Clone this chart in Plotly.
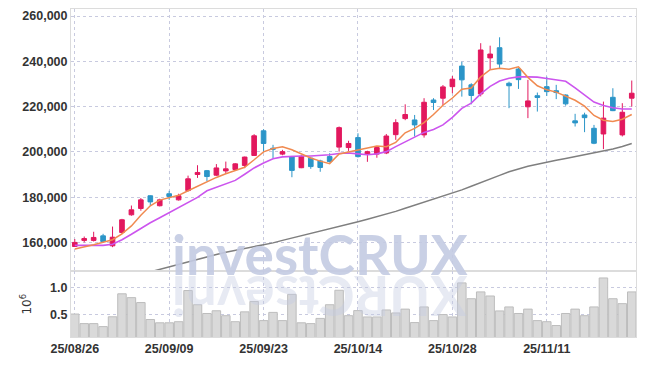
import plotly.graph_objects as go
from plotly.subplots import make_subplots

dates = [
    "25/08/26", "25/08/27", "25/08/28", "25/08/29",
    "25/09/01", "25/09/02", "25/09/03", "25/09/04", "25/09/05",
    "25/09/08", "25/09/09", "25/09/10", "25/09/11", "25/09/12",
    "25/09/15", "25/09/16", "25/09/17", "25/09/18", "25/09/19",
    "25/09/22", "25/09/23", "25/09/24", "25/09/25", "25/09/26",
    "25/09/29", "25/09/30", "25/10/01", "25/10/02", "25/10/10",
    "25/10/13", "25/10/14", "25/10/15", "25/10/16", "25/10/17",
    "25/10/20", "25/10/21", "25/10/22", "25/10/23", "25/10/24",
    "25/10/27", "25/10/28", "25/10/29", "25/10/30", "25/10/31",
    "25/11/03", "25/11/04", "25/11/05", "25/11/06", "25/11/07",
    "25/11/10", "25/11/11", "25/11/12", "25/11/13", "25/11/14",
    "25/11/17", "25/11/18", "25/11/19", "25/11/20", "25/11/21",
    "25/11/24",
]

opens = [158200, 160900, 160900, 162900, 158500, 164400, 172200, 175000, 180600, 176200,
         181500, 178800, 182900, 190000, 191700, 189700, 191600, 192200, 194000, 198400,
         209300, 201600, 199000, 197900, 193000, 197200, 196000, 197900, 202100, 201900,
         206300, 199000, 199000, 199500, 207600, 214700, 214100, 207500, 222900, 223700,
         228800, 237900, 229600, 225600, 241500, 246000, 230300, 236600, 219900, 224800,
         228800, 227000, 225100, 213700, 216300, 210400, 207900, 224100, 207500, 223700]
highs = [161500, 162600, 164700, 163800, 167000, 170400, 176300, 179600, 180800, 179300,
         182800, 181500, 189500, 194100, 192000, 194600, 195700, 195000, 197900, 207800,
         210000, 203100, 200900, 198200, 198500, 197500, 196500, 199400, 211200, 204900,
         208200, 200500, 202300, 207900, 214400, 221000, 216300, 223700, 223700, 229500,
         233500, 239800, 230300, 248000, 246900, 250600, 231000, 237000, 231800, 226200,
         233200, 229600, 225400, 216800, 217300, 211900, 222200, 228100, 221500, 231500]
lows = [158000, 160000, 160400, 160000, 157900, 163800, 171800, 174000, 176300, 175900,
        178800, 178500, 182500, 188500, 187100, 189400, 190300, 191800, 192800, 198200,
        199900, 197200, 198500, 188800, 192800, 192500, 191200, 195300, 200100, 200400,
        197500, 195600, 197400, 199000, 205300, 214000, 206800, 206300, 218500, 220700,
        225900, 224400, 221000, 224500, 236200, 236900, 219300, 227800, 214900, 217800,
        224700, 223300, 220400, 211200, 208700, 203400, 201200, 218000, 206800, 220000]
closes = [160000, 161700, 162200, 160400, 162300, 170000, 174400, 178800, 177900, 178800,
          180300, 180600, 188100, 190900, 189100, 192900, 192500, 194700, 197700, 207100,
          203700, 201200, 200100, 191800, 198000, 193500, 193100, 195700, 210700, 203700,
          197900, 200100, 201900, 207000, 212900, 216500, 211900, 221900, 221800, 228700,
          232100, 231800, 224900, 245000, 243200, 238800, 229200, 231900, 222500, 224000,
          226600, 226200, 221200, 212800, 215100, 203800, 214900, 218200, 217500, 225900]

# volume in millions of shares
volumes = [0.51, 0.335, 0.335, 0.28, 0.46, 0.88, 0.81, 0.72, 0.41, 0.35,
           0.35, 0.37, 0.94, 0.68, 0.52, 0.57, 0.48, 0.37, 0.55, 0.74,
           0.39, 0.54, 0.39, 0.87, 0.35, 0.335, 0.43, 0.68, 0.945, 0.48,
           0.573, 0.457, 0.457, 0.585, 0.53, 0.60, 0.354, 0.64, 0.39, 0.50,
           0.457, 1.08, 0.79, 0.915, 0.84, 0.567, 0.64, 0.52, 0.60, 0.39,
           0.37, 0.30, 0.52, 0.60, 0.48, 0.64, 1.17, 0.79, 0.70, 0.915]

ma5 = [157100, 157900, 159000, 160100, 161200, 163800, 167300, 172000, 176200, 178700,
       179900, 180800, 182800, 184800, 186800, 188700, 190300, 191600, 193200, 196500,
       200000, 201500, 202200, 200900, 199100, 197300, 195900, 194800, 199100, 200000,
       200700, 201800, 202600, 202300, 204200, 208400, 210400, 212900, 216500, 220600,
       223800, 227700, 228200, 233100, 236300, 236900, 236500, 237600, 232900, 229200,
       227400, 226400, 224600, 222800, 220200, 216100, 214000, 213400, 214400, 216500]

ma20 = [158700, 158700, 158700, 158700, 159200, 161200, 163600, 166200, 168700, 170900,
        173100, 175500, 177500, 179900, 182800, 184300, 185900, 187400, 190100, 192900,
        195100, 197000, 197800, 198100, 198200, 198200, 198300, 198700, 199300, 199500,
        199100, 198700, 199100, 200100, 202300, 204500, 206500, 208600, 209900, 211900,
        215200, 219200, 221500, 225600, 228900, 231300, 232500, 233100, 233100, 233000,
        232400, 231900, 231200, 228300, 225100, 222000, 220500, 219500, 218900, 218900]

ma_long = [138200, 139300, 140400, 141500, 142600, 143700, 144800, 146000, 147200, 148300,
           149400, 150600, 151700, 152800, 153700, 154700, 155700, 156500, 157400, 158300,
           159200, 159800, 160900, 161900, 162800, 163800, 164800, 165900, 167000, 168100,
           169100, 170200, 171300, 172400, 173700, 175100, 176400, 177900, 179300, 180600,
           181800, 183200, 184800, 186300, 187900, 189600, 191200, 192500, 193600, 194500,
           195500, 196300, 197100, 197900, 198700, 199600, 200400, 201300, 202400, 203700]

tick_dates = ["25/08/26", "25/09/09", "25/09/23", "25/10/14", "25/10/28", "25/11/11"]
price_ticks = [160000, 180000, 200000, 220000, 240000, 260000]
vol_ticks = [0.5, 1.0]
vol_tick_text = ["0.5", "1.0"]

RED = "#e2185e"
BLUE = "#2b95c8"
GRID = "#c8cadf"
FRAME = "#dcdcdc"
FONT = "Liberation Sans, Arial, sans-serif"
WM_FONT = "Lato, Liberation Sans, sans-serif"

fig = make_subplots(rows=2, cols=1, shared_xaxes=True, vertical_spacing=0,
                    row_heights=[0.8, 0.2])

fig.add_trace(go.Candlestick(
    x=dates, open=opens, high=highs, low=lows, close=closes,
    increasing=dict(line=dict(color=RED, width=1), fillcolor=RED),
    decreasing=dict(line=dict(color=BLUE, width=1), fillcolor=BLUE),
    whiskerwidth=0, showlegend=False, hoverinfo="skip"), row=1, col=1)

fig.add_trace(go.Scatter(x=dates, y=ma_long, mode="lines",
                         line=dict(color="#7f7f7f", width=1.5), showlegend=False,
                         hoverinfo="skip"), row=1, col=1)
fig.add_trace(go.Scatter(x=dates, y=ma20, mode="lines",
                         line=dict(color="#cc55ee", width=1.6), showlegend=False,
                         hoverinfo="skip"), row=1, col=1)
fig.add_trace(go.Scatter(x=dates, y=ma5, mode="lines",
                         line=dict(color="#f08a50", width=1.5), showlegend=False,
                         hoverinfo="skip"), row=1, col=1)

fig.add_trace(go.Bar(x=dates, y=volumes,
                     marker=dict(color="#d9d9d9", line=dict(color="#bdbdbd", width=1)),
                     showlegend=False, hoverinfo="skip"), row=2, col=1)

tickfont = dict(family=FONT, size=12.5, color="#333333", weight="bold")

axis_common = dict(showgrid=True, gridcolor=GRID, griddash="dot", gridwidth=1,
                   showline=True, linecolor=FRAME, linewidth=1, mirror=True,
                   zeroline=False, ticks="", automargin=False)

fig.update_xaxes(type="category", range=[-0.4, 59.45], tickmode="array",
                 tickvals=tick_dates, ticktext=tick_dates, tickfont=tickfont,
                 **axis_common)
fig.update_xaxes(showticklabels=False, rangeslider_visible=False, row=1, col=1)

fig.update_yaxes(range=[147200, 263100], tickmode="array", tickvals=price_ticks,
                 tickformat=",", tickfont=tickfont, **axis_common, row=1, col=1)
fig.update_yaxes(range=[0.09, 1.29], tickmode="array", tickvals=vol_ticks,
                 ticktext=vol_tick_text, tickfont=tickfont,
                 title=dict(text="10<sup>6</sup>",
                            font=dict(family="DejaVu Sans", size=12, color="#333333")),
                 **axis_common, row=2, col=1)

fig.add_annotation(xref="paper", yref="paper", x=0.44, y=(337.5 - 254) / 328.5,
                   text="<b>investCRUX</b>", showarrow=False,
                   font=dict(family=WM_FONT, size=55, color="#c4cbe3"),
                   xanchor="center", yanchor="middle", opacity=0.9)
fig.add_annotation(xref="paper", yref="paper", x=0.44, y=(337.5 - 298) / 328.5,
                   text="<b>XURCtsevni</b>", showarrow=False, textangle=180,
                   font=dict(family=WM_FONT, size=55, color="#c4cbe3"),
                   xanchor="center", yanchor="middle", opacity=0.4)

# the page body has an 8px default margin, so the figure is sized to fit inside it
fig.update_layout(width=637, height=358,
                  margin=dict(l=63, r=9, t=1, b=28.5),
                  paper_bgcolor="white", plot_bgcolor="white",
                  bargap=0.1, boxgap=0.3, showlegend=False,
                  font=dict(family=FONT, color="#333333"))

fig.write_html("out.html")
